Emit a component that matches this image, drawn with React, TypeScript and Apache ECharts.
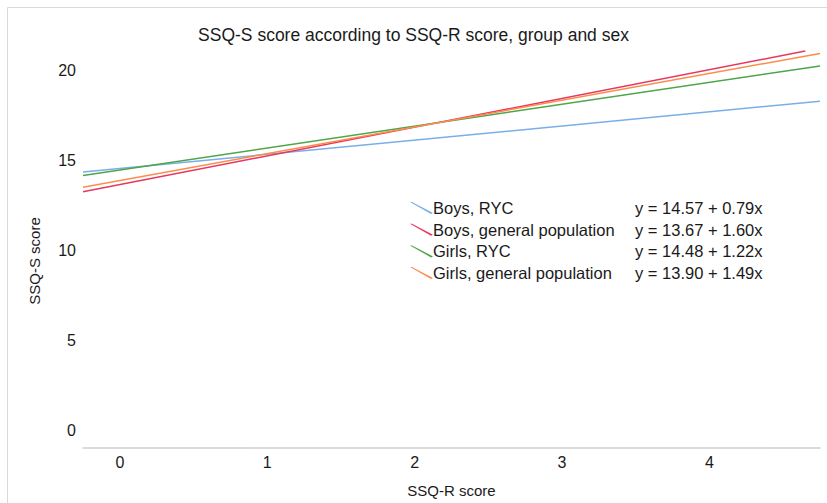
import React, { useEffect, useRef } from "react";
import * as echarts from "echarts";

const seriesNames = [
  "Boys, RYC",
  "Boys, general population",
  "Girls, RYC",
  "Girls, general population",
];
const equations = [
  "y = 14.57 + 0.79x",
  "y = 13.67 + 1.60x",
  "y = 14.48 + 1.22x",
  "y = 13.90 + 1.49x",
];
const colors = ["#78aeea", "#e8365e", "#4ea54a", "#fb8c4c"];
// line end points: [SSQ-R score, SSQ-S score]
const boysRYC = [[-0.25, 14.37], [4.75, 18.32]];
const boysGeneral = [[-0.25, 13.27], [4.65, 21.11]];
const girlsRYC = [[-0.25, 14.18], [4.75, 20.28]];
const girlsGeneral = [[-0.25, 13.53], [4.75, 20.98]];
const xTicks = [0, 1, 2, 3, 4];
const yTicks = [0, 5, 10, 15, 20];

const FONT = '"Liberation Sans", Arial, sans-serif';
const TXT = "#1a1a1a";

export default function App() {
  const ref = useRef<HTMLDivElement>(null);
  useEffect(() => {
    const chart = echarts.init(ref.current!, null, { renderer: "svg" });
    const allData = [boysRYC, boysGeneral, girlsRYC, girlsGeneral];
    chart.setOption({
      animation: false,
      backgroundColor: "#ffffff",
      textStyle: { fontFamily: FONT },
      title: {
        text: "SSQ-S score according to SSQ-R score, group and sex",
        left: "center",
        top: 21,
        textStyle: { fontFamily: FONT, fontSize: 17.5, fontWeight: "normal", color: TXT },
      },
      graphic: [
        {
          type: "rect",
          shape: { x: 7.5, y: 7.5, width: 900, height: 600 },
          style: { fill: "none", stroke: "#d9d9d9", lineWidth: 1 },
          silent: true,
        },
        {
          type: "text",
          x: 34,
          y: 261,
          rotation: Math.PI / 2,
          style: {
            text: "SSQ-S score",
            fontFamily: FONT,
            fontSize: 15,
            fill: TXT,
            align: "center",
            verticalAlign: "middle",
          },
        },
      ],
      legend: {
        orient: "vertical",
        left: 405,
        top: 194,
        itemWidth: 23,
        itemHeight: 12,
        itemGap: 3.7,
        data: seriesNames.map((n) => ({
          name: n,
          icon: "path://M0,0L2,0L23,11L21,12Z",
        })),
        formatter: (name: string) => {
          const i = seriesNames.indexOf(name);
          return `{a|${name}}{b|${equations[i]}}`;
        },
        textStyle: {
          fontFamily: FONT,
          fontSize: 16.5,
          color: TXT,
          lineHeight: 18,
          padding: [0, 0, 0, -5],
          rich: {
            a: { width: 202, fontFamily: FONT, fontSize: 16.5, lineHeight: 18, color: TXT },
            b: { fontFamily: FONT, fontSize: 16.5, lineHeight: 18, color: TXT },
          },
        },
      },
      grid: { left: 83, right: 7, top: 27, bottom: 53 },
      xAxis: {
        type: "value",
        min: -0.25,
        max: 4.75,
        name: "SSQ-R score",
        nameLocation: "middle",
        nameGap: 35,
        nameTextStyle: { fontFamily: FONT, fontSize: 15, color: TXT },
        axisLine: { show: true, onZero: false, lineStyle: { color: "#d0d0d0", width: 1.5 } },
        axisTick: { show: false },
        splitLine: { show: false },
        axisLabel: {
          customValues: xTicks,
          fontFamily: FONT,
          fontSize: 16,
          color: TXT,
          margin: 6,
        },
      },
      yAxis: {
        type: "value",
        min: -1.0,
        max: 22.45,
        axisLine: { show: false },
        axisTick: { show: false },
        splitLine: { show: false },
        axisLabel: {
          customValues: yTicks,
          fontFamily: FONT,
          fontSize: 16,
          color: TXT,
          margin: 7,
        },
      },
      series: allData.map((d, i) => ({
        name: seriesNames[i],
        type: "line",
        data: d,
        symbol: "none",
        lineStyle: { color: colors[i], width: 1.5 },
        itemStyle: { color: colors[i] },
        clip: false,
      })),
    });
    return () => chart.dispose();
  }, []);
  return (
    <div
      ref={ref}
      style={{ position: "fixed", left: 0, top: 0, width: 827, height: 503 }}
    />
  );
}
